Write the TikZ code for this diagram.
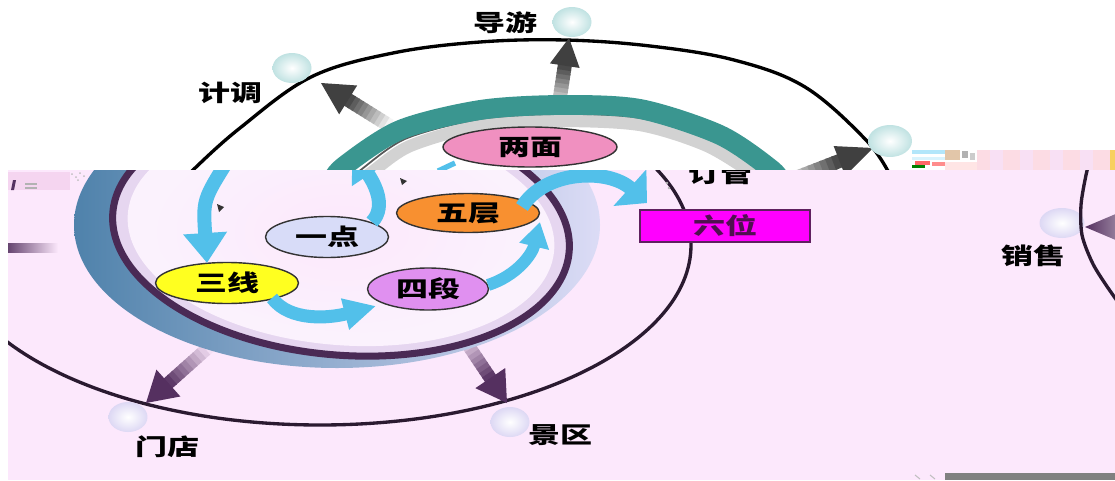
\documentclass[tikz,border=0pt]{standalone}
\usepackage{fontspec}
\usepackage{graphicx}
\newfontfamily\cjk{Noto Sans CJK SC}
\usetikzlibrary{shapes.geometric,arrows.meta,calc}
\definecolor{bgpink}{HTML}{FCE8FC}
\definecolor{tealband}{HTML}{3A9690}
\definecolor{skyarr}{HTML}{52C0EA}
\definecolor{ringpur}{HTML}{4A2A55}
\definecolor{darkpur}{HTML}{553060}
\definecolor{steel}{HTML}{4F82AB}
\definecolor{bandmid}{HTML}{A9C8EA}
\definecolor{bandlight}{HTML}{DCDCF6}
\definecolor{arcpur}{HTML}{2A1A30}
\definecolor{ovpink}{HTML}{F090C0}
\definecolor{ovorange}{HTML}{F89030}
\definecolor{ovblue}{HTML}{D8DCF8}
\definecolor{ovyellow}{HTML}{FFFF20}
\definecolor{ovviolet}{HTML}{E090F0}
\definecolor{boxmag}{HTML}{FF00FF}
\definecolor{boxline}{HTML}{602060}
\definecolor{boxtext}{HTML}{501050}
\definecolor{darkgrey}{HTML}{404040}
\definecolor{ballteal}{HTML}{C0E2E2}
\definecolor{balllav}{HTML}{DDD8F4}
\definecolor{ringin}{HTML}{E6D6F0}
\definecolor{glow}{HTML}{FBF2FD}
\definecolor{gpeach}{HTML}{FCDCE4}
\definecolor{gpink}{HTML}{F8E0F4}
\definecolor{gyellow}{HTML}{F8D060}
\definecolor{gblock}{HTML}{F5D5F0}
\definecolor{ggrey}{HTML}{808080}
\newcommand\wz[1]{\scalebox{1.4}[1]{#1}}
\newcommand\gradarrow[7]{%
  \coordinate (ga-b) at ($(#2)!#6!(#1)$);
  \foreach \i [evaluate=\i as \p using int(10*\i+5), evaluate=\i as \r using \i/10, evaluate=\i as \q using (\i+1.3)/10] in {0,...,9}{
    \draw[line width=#5, color=#4!\p!#3] ($(#1)!\r!(ga-b)$) -- ($(#1)!\q!(ga-b)$);}
  \fill[#4] (#2) -- ($(ga-b)!#7!90:(#2)$) -- ($(ga-b)!#7!-90:(#2)$) -- cycle;
}
\begin{document}
\begin{tikzpicture}[x=0.02cm,y=-0.02cm,
  lbl/.style={font=\cjk\bfseries\fontsize{13}{15}\selectfont, text=black, inner sep=0pt},
  oval/.style={ellipse, draw=black!80, line width=0.8pt, inner sep=0pt, font=\cjk\bfseries\fontsize{13}{15}\selectfont},
  tball/.style={ellipse, inner sep=0pt, minimum width=0.78cm, minimum height=0.6cm, inner color=white, outer color=#1},
  tball/.default=ballteal,
  skyline/.style={skyarr, line width=#1},
]
\useasboundingbox (0,0) rectangle (1115,480);
\fill[white] (0,0) rectangle (1115,480);
% ================= TOP REGION =================
\begin{scope}
\clip (0,0) rectangle (1115,170);
\draw[line width=1.9pt, black] plot[smooth, tension=0.6] coordinates {(180,185) (193,170) (240,128) (311,77) (393,53) (480,42) (565,40) (650,46) (734,60) (805,87) (866,140) (890,175)};
% grey arrows
\coordinate (g1t) at (390,126); \coordinate (g1h) at (321,83);
\coordinate (g2t) at (558,110); \coordinate (g2h) at (569,38);
\coordinate (g3t) at (780,184); \coordinate (g3h) at (873,148);
\gradarrow{g1t}{g1h}{white}{darkgrey}{0.28cm}{0.64cm}{0.34cm}
\gradarrow{g2t}{g2h}{white}{darkgrey}{0.28cm}{0.56cm}{0.3cm}
\gradarrow{g3t}{g3h}{white}{darkgrey}{0.28cm}{0.72cm}{0.32cm}
% grey inner band and teal band
\draw[line width=7pt, gray!35] plot[smooth] coordinates {(355,185) (372,172) (410,146) (480,126) (560,121) (640,125) (705,145) (750,172) (762,185)};
\draw[line width=1pt, gray!70!black] plot[smooth] coordinates {(340,185) (358,172) (405,139) (480,119) (560,114) (640,118) (712,140) (762,172) (772,185)};
\draw[line width=11.3pt, tealband] plot[smooth] coordinates {(330,185) (343,167) (400,130) (480,110) (560,105) (640,109) (720,135) (772,170) (782,185)};
\draw[skyarr, line width=3pt] (438,171) -- (455,163);
% balls
\node[tball] (b1) at (292,68) {};
\node[tball] (b2) at (572,22) {};
\node[tball, minimum width=0.88cm, minimum height=0.64cm] (b3) at (890,141) {};
% labels
\node[lbl] (jidiao) at (230,93) {\wz{计调}};
\node[lbl] (daoyou) at (505,23) {\wz{导游}};
\node[oval, fill=ovpink, minimum width=3.48cm, minimum height=0.8cm] (liangmian) at (530,147) {\wz{两面}};
% glitch strip
\fill[cyan!30] (912,150) rectangle (945,154);
\fill[cyan!15] (912,157) rectangle (945,160);
\fill[red!60] (915,161) rectangle (930,165);
\fill[green!50!black] (912,165) rectangle (925,168);
\fill[red!45] (932,162) rectangle (945,166);
\fill[brown!45] (945,150) rectangle (960,160);
\fill[gray!60] (962,151) rectangle (968,158);
\fill[gray!40] (970,153) rectangle (975,160);
\fill[pink!40] (945,162) rectangle (977,170);
\fill[gpeach] (977,150) rectangle (1110,170);
\foreach \k in {0,...,3}{\fill[gpink] (990+30*\k,150) rectangle (1003+30*\k,170);}
\fill[gyellow] (1110,150) rectangle (1115,170);
\end{scope}
% ================= BOTTOM REGION =================
\fill[bgpink] (8,170) rectangle (1115,480);
\begin{scope}
\clip (8,170) rectangle (1115,480);
\draw[line width=1.9pt, arcpur] (320,245) ellipse [x radius=371, y radius=180];
% purple arrows
\coordinate (p1t) at (210,346); \coordinate (p1h) at (146,403);
\coordinate (p2t) at (462,336); \coordinate (p2h) at (507,403);
\gradarrow{p1t}{p1h}{bgpink}{darkpur}{0.26cm}{0.6cm}{0.36cm}
\gradarrow{p2t}{p2h}{bgpink}{darkpur}{0.26cm}{0.6cm}{0.36cm}
% blue band and ring
\shade[left color=steel, middle color=bandmid, right color=bandlight] (337,225) ellipse [x radius=263, y radius=143];
\begin{scope}[rotate around={-5:(341,232)}]
\fill[ringin] (341,232) ellipse [x radius=229, y radius=123];
\fill[glow] (341,232) ellipse [x radius=214, y radius=113];
\shade[inner color=bgpink, outer color=glow] (341,232) ellipse [x radius=190, y radius=99];
\draw[line width=4pt, ringpur] (341,232) ellipse [x radius=229, y radius=123];
\end{scope}
% ovals
\node[oval, fill=ovblue, minimum width=2.46cm, minimum height=0.82cm] (yidian) at (327,237) {\wz{一点}};
\node[oval, fill=ovyellow, minimum width=2.86cm, minimum height=0.82cm] (sanxian) at (227,283) {\wz{三线}};
\node[oval, fill=ovviolet, minimum width=2.42cm, minimum height=0.84cm] (siduan) at (428,289) {\wz{四段}};
\node[oval, fill=ovorange, minimum width=2.86cm, minimum height=0.78cm] (wuceng) at (468,213) {\wz{五层}};
% blue arrows
\coordinate (a1s) at (228,160); \coordinate (a1e) at (207,263);
\draw[skyline=0.28cm, -{Triangle[length=0.6cm,width=0.84cm]}] (a1s) .. controls (203,200) .. (a1e);
\coordinate (a2s) at (372,222); \coordinate (a2e) at (352,150);
\draw[skyline=0.28cm, -{Triangle[length=0.6cm,width=0.76cm]}] (a2s) .. controls (388,205) and (372,180) .. (a2e);
\coordinate (a3s) at (272,298); \coordinate (a3e) at (376,306);
\draw[skyline=0.26cm, -{Triangle[length=0.64cm,width=0.6cm]}] (a3s) .. controls (290,322) and (330,318) .. (a3e);
\coordinate (a4s) at (488,285); \coordinate (a4e) at (540,222);
\draw[skyline=0.24cm, -{Triangle[length=0.5cm,width=0.58cm]}] (a4s) .. controls (516,276) and (532,255) .. (a4e);
\coordinate (a5s) at (522,207); \coordinate (a5e) at (647,203);
\draw[skyline=0.28cm, -{Triangle[length=0.46cm,width=0.96cm]}] (a5s) .. controls (545,170) and (608,168) .. (a5e);
% tiny marks
\fill[black!80] (217,204) -- (224,207) -- (219,212) -- cycle;
\fill[black!80] (400,178) -- (407,181) -- (402,185) -- cycle;
% six box
\node[draw=boxline, line width=1.2pt, fill=boxmag, minimum width=3.4cm, minimum height=0.64cm, inner sep=0pt, font=\cjk\bfseries\fontsize{13}{15}\selectfont, text=boxtext] (liuwei) at (725,226) {\wz{六位}};
% labels
\node[lbl] (dingguan) at (720,174) {\wz{订管}};
\node[lbl] (mendian) at (167,447) {\wz{门店}};
\node[lbl] (jingqu) at (560,435) {\wz{景区}};
\node[lbl] (xiaoshou) at (1033,256) {\wz{销售}};
% balls
\node[tball=balllav] (b4) at (128,417) {};
\node[tball=balllav] (b5) at (510,422) {};
\node[tball=balllav, minimum width=0.9cm] (b6) at (1062,223) {};
% right arc and arrowhead
\draw[line width=1.9pt, arcpur] plot[smooth] coordinates {(1090,160) (1086,175) (1081,205) (1082,235) (1092,262) (1104,282) (1120,305)};
\coordinate (rh) at (1085,227);
\shade[left color=darkpur, right color=darkpur!60] (rh) -- (1118,213) -- (1118,241) -- cycle;
% glitch bits
\fill[gblock] (8,172) rectangle (70,190);
\fill[darkpur] (11,190) -- (13,180) -- (16,180) -- (14,190) -- cycle;
\draw[gray!60, line width=0.8pt] (25,184) -- (37,184) (25,188) -- (37,188);
\foreach \dx/\dy in {72/174,76/177,80/173,84/176,78/180} {\fill[gray!50] (\dx,\dy) circle [radius=1];}
\fill[gray!60] (667,183) circle [radius=1.3] (669,188) circle [radius=1.3];
\shade[left color=darkpur!90, right color=bgpink] (8,243) rectangle (58,252);
\fill[ggrey] (945,473) rectangle (1115,480);
\draw[gray!50, line width=0.6pt] (915,475) -- (920,479) (930,475) -- (935,479);
\end{scope}
\end{tikzpicture}
\end{document}
